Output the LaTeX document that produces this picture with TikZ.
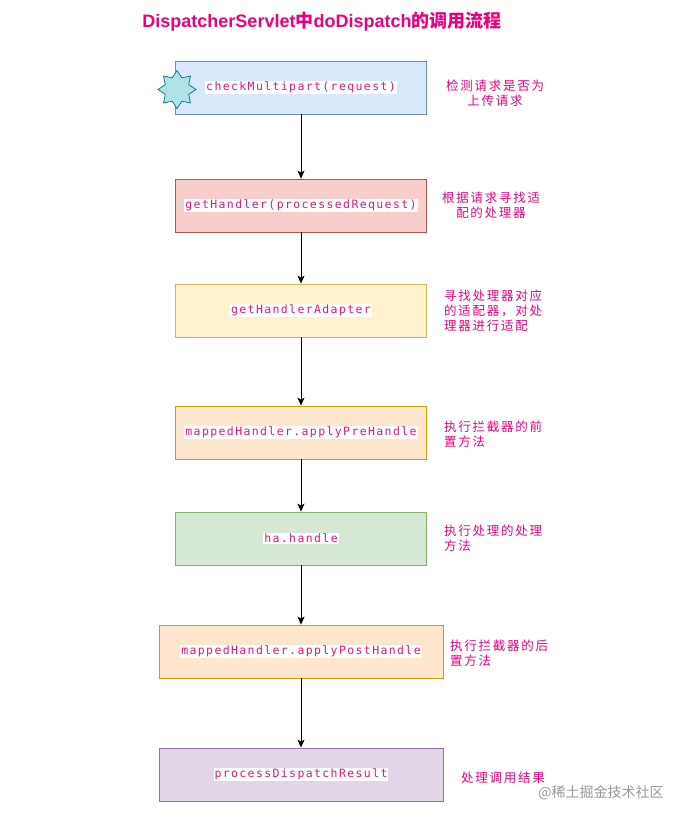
\documentclass[tikz,border=0pt]{standalone}
\usepackage{fontspec}
\setmainfont{Liberation Sans}
\newfontfamily\cjk{Noto Sans CJK SC}
\newfontfamily\cjkls{Noto Sans CJK SC}[LetterSpace=14]
\newfontfamily\codefont{DejaVu Sans Mono}[LetterSpace=12]
\usetikzlibrary{shapes.geometric,arrows.meta}
\definecolor{mag}{RGB}{236,0,128}
\definecolor{codemag}{RGB}{222,24,125}
\definecolor{bluefill}{HTML}{DAE8FC}\definecolor{blueline}{HTML}{6C8EBF}
\definecolor{redfill}{HTML}{F8CECC}\definecolor{redline}{HTML}{B85450}
\definecolor{yelfill}{HTML}{FFF2CC}\definecolor{yelline}{HTML}{D6B656}
\definecolor{orafill}{HTML}{FFE6CC}\definecolor{oraline}{HTML}{D79B00}
\definecolor{grefill}{HTML}{D5E8D4}\definecolor{greline}{HTML}{82B366}
\definecolor{purfill}{HTML}{E1D5E7}\definecolor{purline}{HTML}{9673A6}
\definecolor{starfill}{HTML}{B0E3E6}\definecolor{starline}{HTML}{0E8088}
\newcommand{\codetxt}[1]{{\setlength{\fboxsep}{1pt}\colorbox{white}{\codefont\fontsize{11.5}{13}\selectfont\color{codemag}#1}}}
\begin{document}
\begin{tikzpicture}[x=1pt,y=-1pt,
  stepbox/.style={draw, line width=0.8pt, minimum width=251pt, minimum height=53pt, inner sep=0pt},
  widebox/.style={stepbox, minimum width=284pt},
  note/.style={text=mag, font=\cjkls\fontsize{12.5}{15}\selectfont, inner sep=0pt},
  flow/.style={line width=0.8pt, -{Stealth[length=8pt,width=7pt,inset=2pt]}}]
\useasboundingbox (0,0) rectangle (686,822);
\fill[white] (0,0) rectangle (686,822);

\node[text=mag, inner sep=0pt] (title) at (322,22)
  {\fontsize{18}{20}\selectfont\bfseries DispatcherServlet{\cjk\bfseries 中}doDispatch{\cjk\bfseries 的调用流程}};

\node[stepbox, fill=bluefill, draw=blueline] (b1) at (301,87.5) {\codetxt{checkMultipart(request)}};
\node[stepbox, fill=redfill, draw=redline] (b2) at (301,205.5) {\codetxt{getHandler(processedRequest)}};
\node[stepbox, fill=yelfill, draw=yelline] (b3) at (301,310.5) {\codetxt{getHandlerAdapter}};
\node[stepbox, fill=orafill, draw=oraline] (b4) at (301,432.5) {\codetxt{mappedHandler.applyPreHandle}};
\node[stepbox, fill=grefill, draw=greline] (b5) at (301,538.5) {\codetxt{ha.handle}};
\node[widebox, fill=orafill, draw=oraline] (b6) at (301,651.5) {\codetxt{mappedHandler.applyPostHandle}};
\node[widebox, fill=purfill, draw=purline] (b7) at (301,774.5) {\codetxt{processDispatchResult}};

\node[star, star points=8, star point ratio=1.5, minimum size=38pt, inner sep=0pt,
  fill=starfill, draw=starline, line width=0.8pt] (star) at (177,89.5) {};

\draw[flow] (b1) -- (b2);
\draw[flow] (b2) -- (b3);
\draw[flow] (b3) -- (b4);
\draw[flow] (b4) -- (b5);
\draw[flow] (b5) -- (b6);
\draw[flow] (b6) -- (b7);

\node[note, align=center] (n1) at (495,93.5) {检测请求是否为\\上传请求};
\node[note, align=center] (n2) at (491,205.5) {根据请求寻找适\\配的处理器};
\node[note, align=left, anchor=west] (n3) at (444,311) {寻找处理器对应\\的适配器，对处\\理器进行适配};
\node[note, align=left, anchor=west] (n4) at (444,434) {执行拦截器的前\\置方法};
\node[note, align=left, anchor=west] (n5) at (444,538.5) {执行处理的处理\\方法};
\node[note, align=left, anchor=west] (n6) at (450,653.5) {执行拦截器的后\\置方法};
\node[note, anchor=west] (n7) at (461,778) {处理调用结果};

\node[text=black!40, font=\cjk\fontsize{14}{16}\selectfont, inner sep=0pt] (wm) at (601,793) {@稀土掘金技术社区};
\end{tikzpicture}
\end{document}
